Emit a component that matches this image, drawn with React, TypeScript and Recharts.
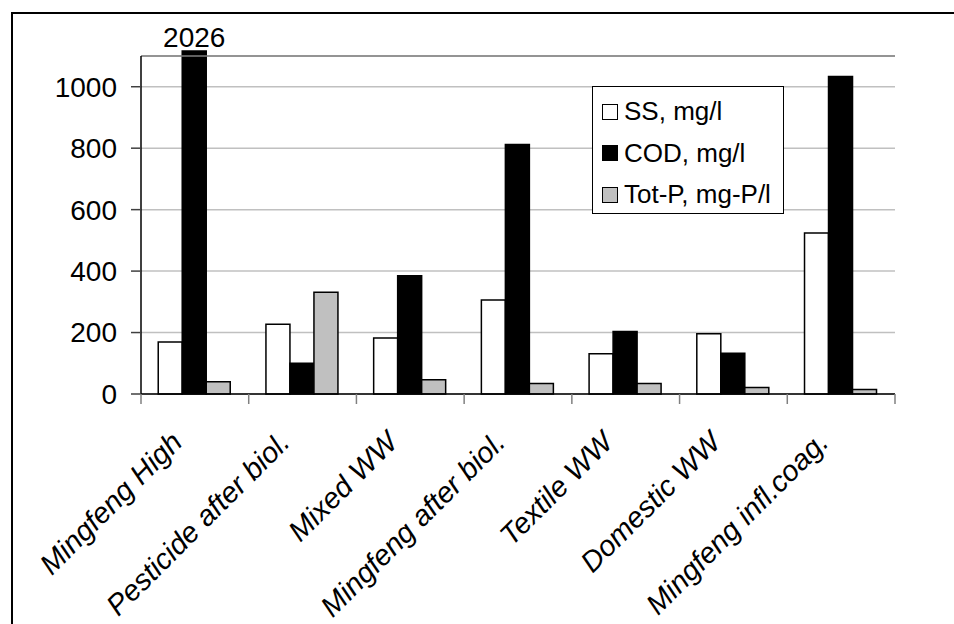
import { BarChart, Bar, XAxis, YAxis, CartesianGrid, ReferenceLine, LabelList, Rectangle } from 'recharts'

const categories = [
  'Mingfeng High',
  'Pesticide after biol.',
  'Mixed WW',
  'Mingfeng after biol.',
  'Textile WW',
  'Domestic WW',
  'Mingfeng infl.coag.',
]
const ssValues = [169, 227, 182, 306, 131, 196, 524]
const codValues = [2026, 100, 385, 812, 203, 133, 1033]
const totPValues = [40, 331, 46, 34, 34, 21, 15]

const yTicks = [0, 200, 400, 600, 800, 1000]
const Y_TOP = 1100

const series = [
  { key: 'ss', name: 'SS, mg/l', fill: '#ffffff' },
  { key: 'cod', name: 'COD, mg/l', fill: '#000000' },
  { key: 'totP', name: 'Tot-P, mg-P/l', fill: '#c0c0c0' },
]

const data = categories.map((name, i) => ({
  name,
  ss: ssValues[i],
  cod: codValues[i],
  totP: totPValues[i],
}))

const FONT = '"Liberation Sans", Arial, sans-serif'
const W = 946
const H = 616
const M = { top: 48, right: 59, left: 0, bottom: 0 }
const Y_W = 133

function CategoryTick(props: any) {
  const { x, y, payload, index, visibleTicksCount } = props
  const half = payload?.offset ?? (W - Y_W - M.right) / categories.length / 2
  const lx = x - 11
  const ly = y + 50
  return (
    <g>
      <line x1={x - half} y1={y} x2={x - half} y2={y + 10} stroke="#808080" strokeWidth={1.5} />
      {index === visibleTicksCount - 1 && (
        <line x1={x + half} y1={y} x2={x + half} y2={y + 10} stroke="#808080" strokeWidth={1.5} />
      )}
      <text
        x={lx}
        y={ly}
        transform={`rotate(-45, ${lx}, ${ly})`}
        textAnchor="end"
        fontStyle="italic"
        fontSize={29}
        fontFamily={FONT}
        fill="#000"
      >
        {payload.value}
      </text>
    </g>
  )
}

// off-scale bar: stick out a few px above the plot, as in the original
function CodShape(props: any) {
  const over = props.payload && props.payload.cod > Y_TOP ? 5 : 0
  return <Rectangle {...props} y={props.y - over} height={props.height + over} />
}

function OverflowLabel(props: any) {
  const { x, y, width, value } = props
  if (value <= Y_TOP) return null
  return (
    <text x={x + width / 2} y={y - 9} textAnchor="middle" fontSize={28} fontFamily={FONT} fill="#000">
      {value}
    </text>
  )
}

export default function App() {
  return (
    <div style={{ position: 'fixed', left: 0, top: 0, width: 954, height: 624, overflow: 'hidden', background: '#fff' }}>
      <div
        style={{
          position: 'absolute',
          left: 11,
          top: 12,
          width: 1200,
          height: 1200,
          borderLeft: '2px solid #000',
          borderTop: '2px solid #000',
        }}
      />
      <div style={{ position: 'absolute', left: 8, top: 8 }}>
        <BarChart
          width={W}
          height={H}
          data={data}
          margin={M}
          barCategoryGap="16%"
          barGap={0}
          style={{ fontFamily: FONT }}
        >
          <CartesianGrid vertical={false} stroke="#c0c0c0" strokeWidth={1.5} yAxisId="left" xAxisId="cat" />
          <XAxis
            dataKey="name"
            xAxisId="cat"
            interval={0}
            height={230}
            tickSize={0}
            tickMargin={0}
            tickLine={false}
            axisLine={{ stroke: '#000', strokeWidth: 1.5 }}
            tick={<CategoryTick />}
          />
          <YAxis
            yAxisId="left"
            width={Y_W}
            domain={[0, Y_TOP]}
            ticks={yTicks}
            interval={0}
            tickSize={10}
            tickMargin={14}
            tick={{ fontSize: 28, fill: '#000', fontFamily: FONT }}
            tickLine={{ stroke: '#404040', strokeWidth: 1.5 }}
            axisLine={{ stroke: '#000', strokeWidth: 1.5 }}
          />
          <YAxis
            yAxisId="right"
            orientation="right"
            width={0}
            domain={[0, Y_TOP]}
            tick={false}
            tickLine={false}
            axisLine={{ stroke: '#808080', strokeWidth: 2 }}
          />
          <ReferenceLine xAxisId="cat" yAxisId="left" y={Y_TOP} stroke="#808080" strokeWidth={1.5} />
          <Bar
            xAxisId="cat"
            yAxisId="left"
            dataKey="ss"
            name={series[0].name}
            fill={series[0].fill}
            stroke="#000"
            strokeWidth={1.5}
            isAnimationActive={false}
          />
          <Bar
            xAxisId="cat"
            yAxisId="left"
            dataKey={(d: any) => Math.min(d.cod, Y_TOP)}
            name={series[1].name}
            fill={series[1].fill}
            stroke="#000"
            strokeWidth={1.5}
            shape={<CodShape />}
            isAnimationActive={false}
          >
            <LabelList dataKey="cod" content={<OverflowLabel />} />
          </Bar>
          <Bar
            xAxisId="cat"
            yAxisId="left"
            dataKey="totP"
            name={series[2].name}
            fill={series[2].fill}
            stroke="#000"
            strokeWidth={1.5}
            isAnimationActive={false}
          />
        </BarChart>
      </div>
      <div
        style={{
          position: 'absolute',
          left: 592,
          top: 86,
          width: 190,
          height: 122,
          border: '1px solid #000',
          background: '#fff',
          paddingTop: 4,
          fontFamily: FONT,
          fontSize: 26,
          color: '#000',
        }}
      >
        {series.map((s) => (
          <div key={s.key} style={{ height: 41.5, display: 'flex', alignItems: 'center' }}>
            <span
              style={{
                display: 'inline-block',
                width: 14,
                height: 14,
                marginLeft: 9,
                marginRight: 6,
                border: '1px solid #000',
                background: s.fill,
              }}
            />
            <span style={{ whiteSpace: 'nowrap' }}>{s.name}</span>
          </div>
        ))}
      </div>
    </div>
  )
}
